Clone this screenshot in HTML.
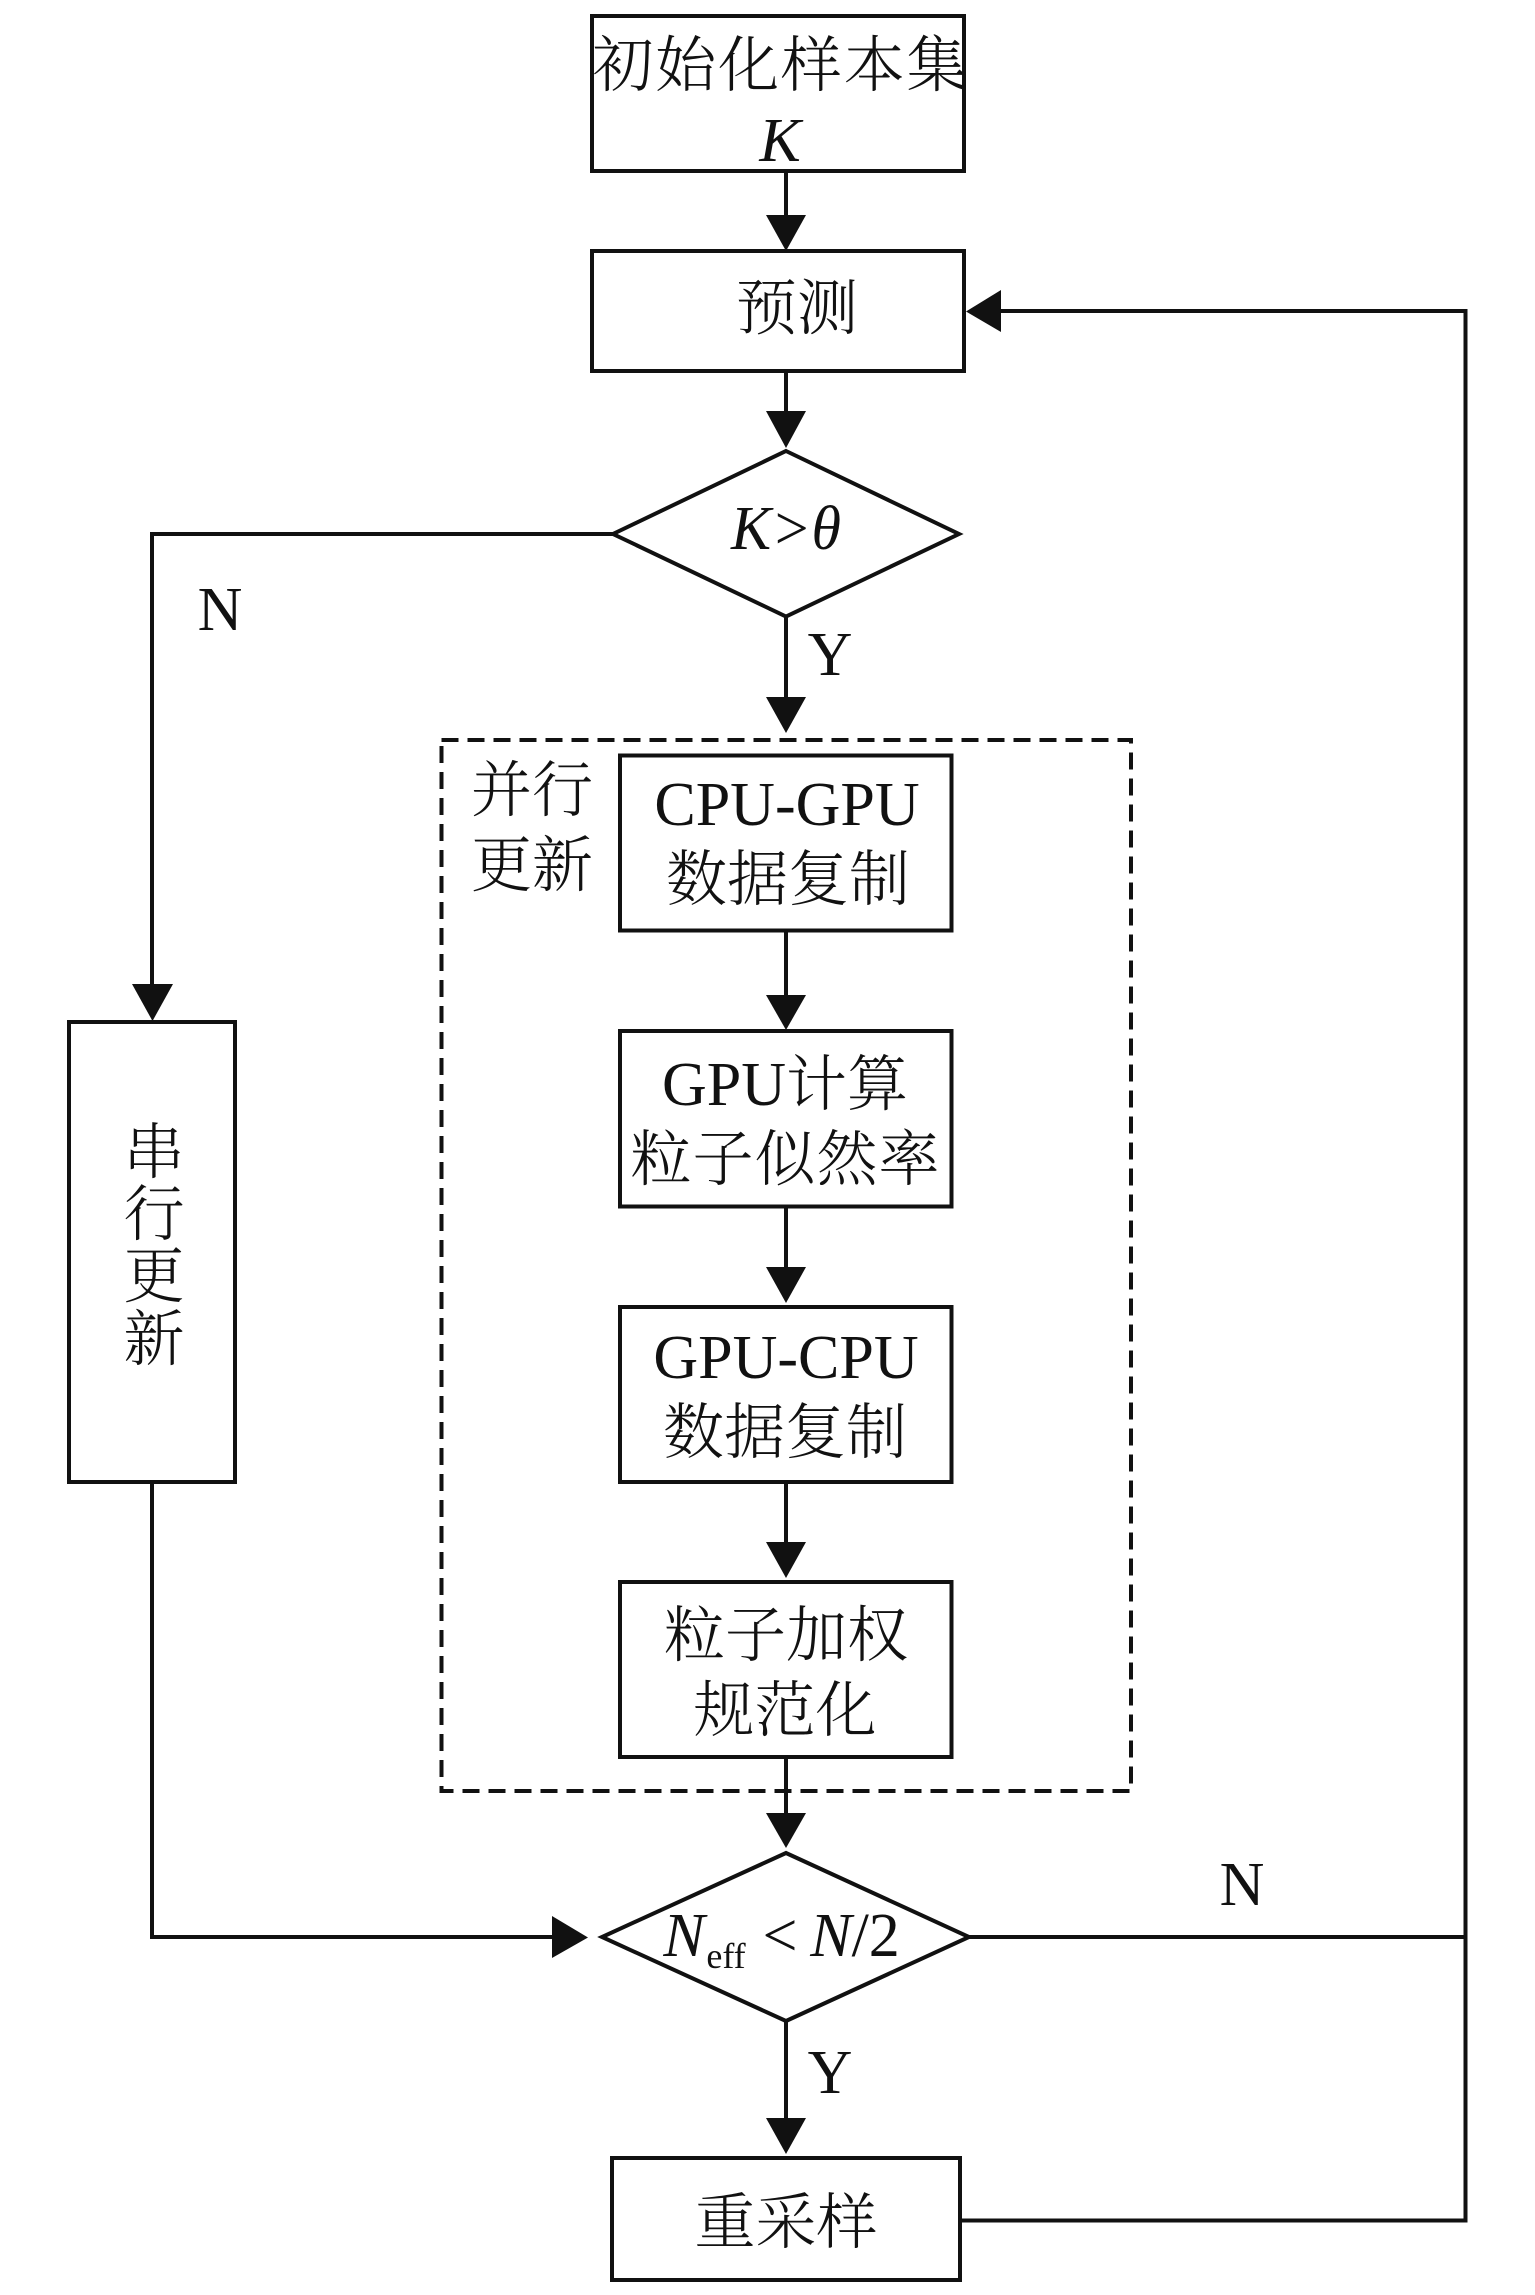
<!DOCTYPE html>
<html><head><meta charset="utf-8"><style>
html,body{margin:0;padding:0;background:#fff;width:1535px;height:2295px;overflow:hidden}
svg{display:block}
text{fill:#111}
.c{font-family:"Liberation Serif","Noto Serif CJK SC",serif;font-size:61px;font-weight:300;text-anchor:middle}
.l{font-family:"Liberation Serif",serif;font-size:62px;text-anchor:middle}
.i{font-style:italic}
</style></head><body>
<svg width="1535" height="2295" viewBox="0 0 1535 2295" xmlns="http://www.w3.org/2000/svg">
<g fill="none" stroke="#111" stroke-width="4">
<rect x="592" y="16" width="372" height="155"/>
<rect x="592" y="251" width="372" height="120"/>
<polygon points="786,451 959,534 786,616.5 613,534"/>
<rect x="69" y="1022" width="166" height="460"/>
<rect x="620" y="755.500" width="331.500" height="175"/>
<rect x="620" y="1031" width="331.500" height="175.500"/>
<rect x="620" y="1307" width="331.500" height="175"/>
<rect x="620" y="1582" width="331.500" height="175"/>
<polygon points="786,1853 969,1937 786,2021 602,1937"/>
<rect x="612" y="2158" width="348" height="122"/>
<rect x="441.500" y="740" width="689.500" height="1051" stroke-dasharray="17 9"/>
<path d="M786 171V220M786 371V415M786 616V702M786 930V1000M786 1206V1272M786 1482V1547M786 1757V1818M786 2021V2122"/>
<path d="M613 534H152V990M152 1482V1937H556M969 1937H1465.500M960 2220.500H1465.500V311H998"/>
</g>
<g fill="#111">
<polygon points="766,215 806,215 786,251"/>
<polygon points="766,411 806,411 786,448"/>
<polygon points="766,697 806,697 786,733"/>
<polygon points="132,984 173,984 152.500,1021"/>
<polygon points="766,995 806,995 786,1030"/>
<polygon points="766,1267 806,1267 786,1303"/>
<polygon points="766,1542 806,1542 786,1578"/>
<polygon points="766,1813 806,1813 786,1848"/>
<polygon points="766,2118 806,2118 786,2154"/>
<polygon points="552,1916 552,1958 588,1937.500"/>
<polygon points="1001,290 1001,332 966,311.500"/>
</g>
<text class="c" x="780" y="86" textLength="375">初始化样本集</text>
<text class="l i" x="780" y="161">K</text>
<text class="c" x="797" y="329">预测</text>
<text class="l i" x="786" y="549" textLength="110" lengthAdjust="spacingAndGlyphs">K&gt;θ</text>
<text class="l" x="220" y="630">N</text>
<text class="l" x="830" y="675">Y</text>
<text class="c" x="532" y="811">并行</text>
<text class="c" x="532" y="886">更新</text>
<text class="l" x="787" y="825">CPU-GPU</text>
<text class="c" x="788" y="900">数据复制</text>
<text class="l" x="785" y="1105">GPU<tspan class="c">计算</tspan></text>
<text class="c" x="785" y="1180" textLength="309">粒子似然率</text>
<text class="l" x="786" y="1378">GPU-CPU</text>
<text class="c" x="785" y="1453">数据复制</text>
<text class="c" x="786" y="1656">粒子加权</text>
<text class="c" x="785" y="1731">规范化</text>
<text class="c" x="154" y="1173">串</text>
<text class="c" x="154" y="1235">行</text>
<text class="c" x="154" y="1297">更</text>
<text class="c" x="154" y="1360">新</text>
<text class="l i" x="684" y="1956">N</text>
<text class="l" x="726" y="1968" style="font-size:36px">eff</text>
<text class="l" x="780" y="1956">&lt;</text>
<text class="l" x="855" y="1956"><tspan class="i">N</tspan>/2</text>
<text class="l" x="1242" y="1905">N</text>
<text class="l" x="830" y="2093">Y</text>
<text class="c" x="786" y="2243">重采样</text>
</svg>
</body></html>
